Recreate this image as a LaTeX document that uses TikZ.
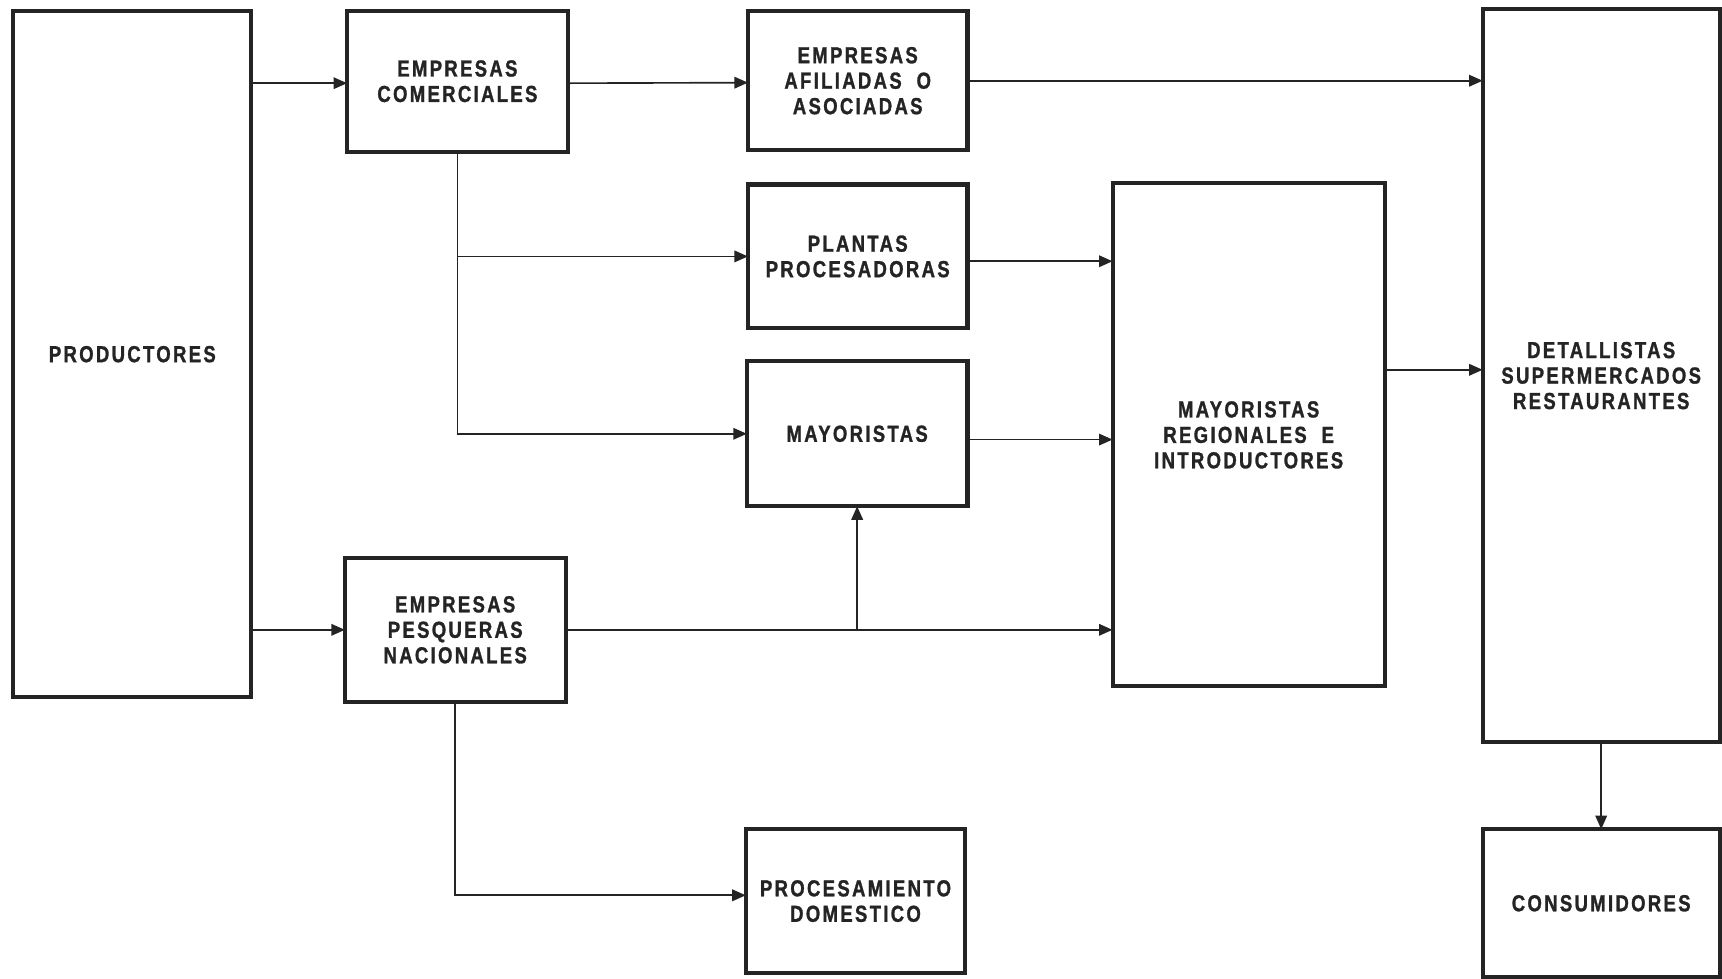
\documentclass[tikz,border=0pt]{standalone}
\usepackage{fontspec}
\setmainfont{Liberation Sans}[FakeStretch=0.8,LetterSpace=10,BoldFeatures={FakeBold=1.2}]
\usetikzlibrary{arrows.meta}
\definecolor{ink}{HTML}{242424}
\tikzset{
  box/.style={draw=ink, line width=2.1pt, fill=white, align=center,
    font=\fontsize{12}{13.2}\selectfont\bfseries, text=ink,
    inner sep=0pt, outer sep=0pt},
  link/.style={draw=ink, line width=0.85pt,
    -{Triangle[length=7pt,width=6pt]}}
}
\begin{document}
\begin{tikzpicture}[x=0.02cm,y=-0.02cm]
\useasboundingbox (0,0) rectangle (1568,891);

% boxes
\node[box, minimum width=4.34cm, minimum height=12.5cm] (prod) at (120.5,322.5) {PRODUCTORES};
\node[box, minimum width=4.02cm, minimum height=2.56cm] (ec) at (416.5,74) {EMPRESAS\\COMERCIALES};
\node[box, minimum width=4.0cm, minimum height=2.54cm] (afil) at (781,73.5) {EMPRESAS\\AFILIADAS~~O\\ASOCIADAS};
\node[box, minimum width=4.0cm, minimum height=2.62cm] (plantas) at (781,233.5) {PLANTAS\\PROCESADORAS};
\node[box, minimum width=4.02cm, minimum height=2.64cm] (may) at (780.5,395) {MAYORISTAS};
\node[box, minimum width=4.96cm, minimum height=9.16cm] (mr) at (1137,396) {MAYORISTAS\\REGIONALES~~E\\INTRODUCTORES};
\node[box, minimum width=4.32cm, minimum height=13.36cm] (det) at (1458,342) {DETALLISTAS\\SUPERMERCADOS\\RESTAURANTES};
\node[box, minimum width=4.02cm, minimum height=2.62cm] (epn) at (414.5,573.5) {EMPRESAS\\PESQUERAS\\NACIONALES};
\node[box, minimum width=4.0cm, minimum height=2.62cm] (proc) at (779,820.5) {PROCESAMIENTO\\DOMESTICO};
\node[box, minimum width=4.32cm, minimum height=2.7cm] (cons) at (1458,822.5) {CONSUMIDORES};

% upper chain
\draw[link] ([yshift=-1pt]prod.east |- ec.west) -- ([yshift=-1pt]ec.west);
\draw[link] ([yshift=-1pt]ec.east) -- ([yshift=-1pt]afil.west);
\draw[link] (afil.east) -- (afil.east -| det.west);

% branches from the commercial firms
\draw[link] (ec.south) |- (may.west);
\draw[link] (ec.south |- plantas.west) -- (plantas.west);
\draw[link] ([yshift=-2.5pt]plantas.east) -- ([yshift=-2.5pt]plantas.east -| mr.west);
\draw[link] ([yshift=-3pt]may.east) -- ([yshift=-3pt]may.east -| mr.west);
\draw[link] ([yshift=3pt]mr.east |- det.west) -- ([yshift=3pt]det.west);

% national fishing firms
\draw[link] (prod.east |- epn.west) -- (epn.west);
\draw[link] (epn.east) -- (epn.east -| mr.west);
\draw[link] (may.south |- epn.east) -- (may.south);
\draw[link] (epn.south) |- ([yshift=3pt]proc.west);

% to consumers
\draw[link] (det.south) -- (cons.north);
\end{tikzpicture}
\end{document}
